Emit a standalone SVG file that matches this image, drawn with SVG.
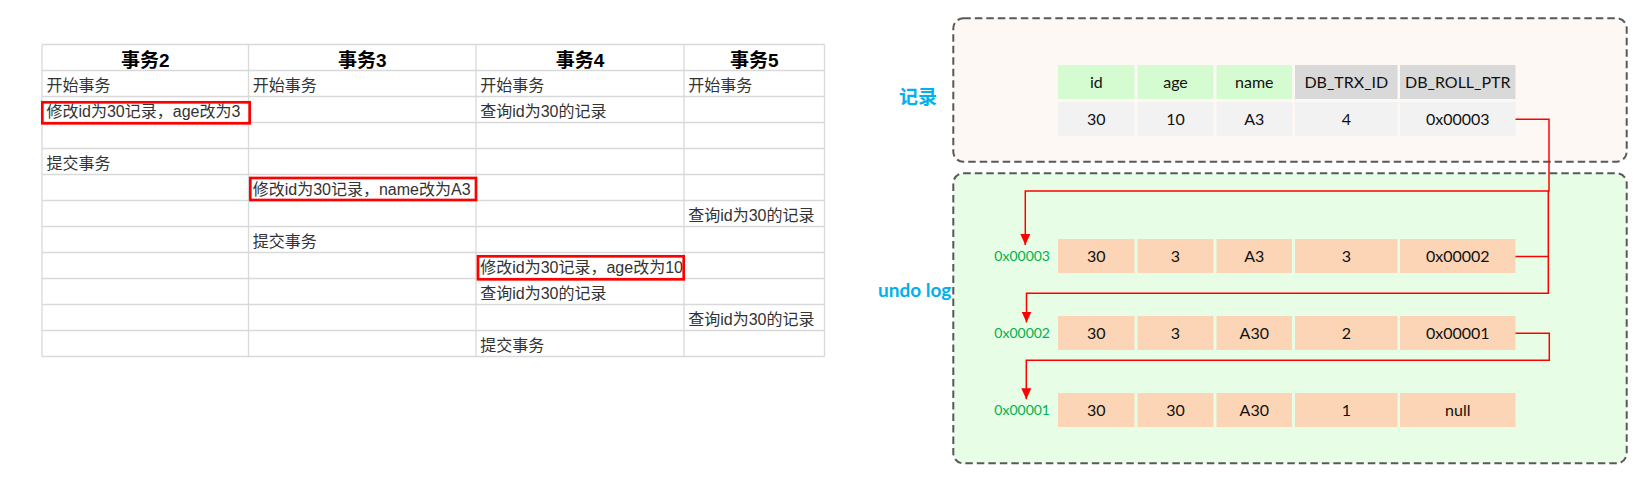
<svg xmlns="http://www.w3.org/2000/svg" width="1649" height="483" viewBox="0 0 1649 483">
<style>
.grid line{stroke:#d9d9d9;stroke-width:1.3}
.th{font-family:"Liberation Sans","Noto Sans CJK SC",sans-serif;font-size:19px;font-weight:bold;fill:#000;text-anchor:middle}
.td{font-family:"Liberation Sans","Noto Sans CJK SC",sans-serif;font-size:16px;fill:#333}
.hl{fill:none;stroke:#ff0000;stroke-width:2.7}
.frame{stroke:#595959;stroke-width:2;stroke-dasharray:7.5 4}
.side{font-family:Lato,"Noto Sans CJK SC",sans-serif;font-size:19px;font-weight:bold;fill:#00b0f0}
.hg{fill:#d5fcd0}
.hy{fill:#d9d9d9}
.rv{fill:#f2f2f2}
.uv{fill:#fbd5b5}
.ct{font-family:Lato,sans-serif;font-size:16px;fill:#111;text-anchor:middle}
.addr{font-family:Lato,sans-serif;font-size:14px;fill:#00b050;text-anchor:end}
.conn{fill:none;stroke:#ff0000;stroke-width:1.5;marker-end:url(#arr)}
</style>
<defs>
<marker id="arr" markerUnits="userSpaceOnUse" markerWidth="11" markerHeight="10" refX="11" refY="5" orient="auto">
<path d="M0,0 L11,5 L0,10 z" fill="#ff0000"/>
</marker>
</defs>
<rect width="1649" height="483" fill="#ffffff"/>

<g id="txn-table">
<g class="grid">
<line x1="42" y1="44.5" x2="824.5" y2="44.5"/>
<line x1="42" y1="70.5" x2="824.5" y2="70.5"/>
<line x1="42" y1="96.5" x2="824.5" y2="96.5"/>
<line x1="42" y1="122.5" x2="824.5" y2="122.5"/>
<line x1="42" y1="148.5" x2="824.5" y2="148.5"/>
<line x1="42" y1="174.5" x2="824.5" y2="174.5"/>
<line x1="42" y1="200.5" x2="824.5" y2="200.5"/>
<line x1="42" y1="226.5" x2="824.5" y2="226.5"/>
<line x1="42" y1="252.5" x2="824.5" y2="252.5"/>
<line x1="42" y1="278.5" x2="824.5" y2="278.5"/>
<line x1="42" y1="304.5" x2="824.5" y2="304.5"/>
<line x1="42" y1="330.5" x2="824.5" y2="330.5"/>
<line x1="42" y1="356.5" x2="824.5" y2="356.5"/>
<line x1="42" y1="44.5" x2="42" y2="356.5"/>
<line x1="248.5" y1="44.5" x2="248.5" y2="356.5"/>
<line x1="476" y1="44.5" x2="476" y2="356.5"/>
<line x1="684" y1="44.5" x2="684" y2="356.5"/>
<line x1="824.5" y1="44.5" x2="824.5" y2="356.5"/>
</g>
<text class="th" x="145.3" y="66.5">事务2</text>
<text class="th" x="362.3" y="66.5">事务3</text>
<text class="th" x="580" y="66.5">事务4</text>
<text class="th" x="754.3" y="66.5">事务5</text>

<text class="td" x="46.5" y="90.5">开始事务</text>
<text class="td" x="252.7" y="90.5">开始事务</text>
<text class="td" x="480.2" y="90.5">开始事务</text>
<text class="td" x="688.2" y="90.5">开始事务</text>

<text class="td" x="46.5" y="116.5">修改id为30记录，age改为3</text>
<text class="td" x="480.2" y="116.5">查询id为30的记录</text>

<text class="td" x="46.5" y="168.5">提交事务</text>
<text class="td" x="252.7" y="194.5">修改id为30记录，name改为A3</text>
<text class="td" x="688.2" y="220.5">查询id为30的记录</text>
<text class="td" x="252.7" y="246.5">提交事务</text>
<text class="td" x="480.2" y="272.5">修改id为30记录，age改为10</text>
<text class="td" x="480.2" y="298.5">查询id为30的记录</text>
<text class="td" x="688.2" y="324.5">查询id为30的记录</text>
<text class="td" x="480.2" y="350.5">提交事务</text>

<rect class="hl" x="42.3" y="102.3" width="207.4" height="21"/>
<rect class="hl" x="250.3" y="178" width="225.7" height="22"/>
<rect class="hl" x="478" y="256.3" width="205.7" height="23"/>
</g>

<g id="record-box">
<rect class="frame" x="953.3" y="18.3" width="673.4" height="143.4" rx="10" fill="#fdf8f4"/>
<text class="side" x="899" y="103.5">记录</text>
</g>

<g id="undo-box">
<rect class="frame" x="953.3" y="173.3" width="673.4" height="290" rx="10" fill="#e8fde5"/>
<text class="side" x="878" y="297.3">undo log</text>
</g>

<g id="record">
<rect class="hg" x="1058" y="65" width="76.5" height="34"/>
<rect class="hg" x="1137.5" y="65" width="76" height="34"/>
<rect class="hg" x="1216.5" y="65" width="75.5" height="34"/>
<rect class="hy" x="1295" y="65" width="102.5" height="34"/>
<rect class="hy" x="1400" y="65" width="115.5" height="34"/>
<text class="ct" x="1096.3" y="87.5">id</text>
<text class="ct" x="1175.5" y="87.5">age</text>
<text class="ct" x="1254.3" y="87.5">name</text>
<text class="ct" x="1346.3" y="87.5">DB_TRX_ID</text>
<text class="ct" x="1457.8" y="87.5">DB_ROLL_PTR</text>
<rect class="rv" x="1058" y="102" width="76.5" height="34"/>
<rect class="rv" x="1137.5" y="102" width="76" height="34"/>
<rect class="rv" x="1216.5" y="102" width="75.5" height="34"/>
<rect class="rv" x="1295" y="102" width="102.5" height="34"/>
<rect class="rv" x="1400" y="102" width="115.5" height="34"/>
<text class="ct" x="1096.3" y="124.5">30</text>
<text class="ct" x="1175.5" y="124.5">10</text>
<text class="ct" x="1254.3" y="124.5">A3</text>
<text class="ct" x="1346.3" y="124.5">4</text>
<text class="ct" x="1457.8" y="124.5">0x00003</text>
</g>

<g id="undo-0x00003">
<text class="addr" x="1050" y="261">0x00003</text>
<rect class="uv" x="1058" y="239" width="76.5" height="34"/>
<rect class="uv" x="1137.5" y="239" width="76" height="34"/>
<rect class="uv" x="1216.5" y="239" width="75.5" height="34"/>
<rect class="uv" x="1295" y="239" width="102.5" height="34"/>
<rect class="uv" x="1400" y="239" width="115.5" height="34"/>
<text class="ct" x="1096.3" y="261.5">30</text>
<text class="ct" x="1175.5" y="261.5">3</text>
<text class="ct" x="1254.3" y="261.5">A3</text>
<text class="ct" x="1346.3" y="261.5">3</text>
<text class="ct" x="1457.8" y="261.5">0x00002</text>
</g>

<g id="undo-0x00002">
<text class="addr" x="1050" y="338.3">0x00002</text>
<rect class="uv" x="1058" y="316" width="76.5" height="34"/>
<rect class="uv" x="1137.5" y="316" width="76" height="34"/>
<rect class="uv" x="1216.5" y="316" width="75.5" height="34"/>
<rect class="uv" x="1295" y="316" width="102.5" height="34"/>
<rect class="uv" x="1400" y="316" width="115.5" height="34"/>
<text class="ct" x="1096.3" y="338.5">30</text>
<text class="ct" x="1175.5" y="338.5">3</text>
<text class="ct" x="1254.3" y="338.5">A30</text>
<text class="ct" x="1346.3" y="338.5">2</text>
<text class="ct" x="1457.8" y="338.5">0x00001</text>
</g>

<g id="undo-0x00001">
<text class="addr" x="1050" y="415">0x00001</text>
<rect class="uv" x="1058" y="393" width="76.5" height="34"/>
<rect class="uv" x="1137.5" y="393" width="76" height="34"/>
<rect class="uv" x="1216.5" y="393" width="75.5" height="34"/>
<rect class="uv" x="1295" y="393" width="102.5" height="34"/>
<rect class="uv" x="1400" y="393" width="115.5" height="34"/>
<text class="ct" x="1096.3" y="415.5">30</text>
<text class="ct" x="1175.5" y="415.5">30</text>
<text class="ct" x="1254.3" y="415.5">A30</text>
<text class="ct" x="1346.3" y="415.5">1</text>
<text class="ct" x="1457.8" y="415.5">null</text>
</g>

<g id="connectors">
<path class="conn" d="M1515.5,119.3 H1549 V191 H1025.3 V245"/>
<path class="conn" d="M1515.5,256.5 H1548.3 M1548.3,191 V293.3 H1026.5 V322.5"/>
<path class="conn" d="M1515.5,333.3 H1549.3 V360.3 H1026.3 V399.3"/>
</g>
</svg>
